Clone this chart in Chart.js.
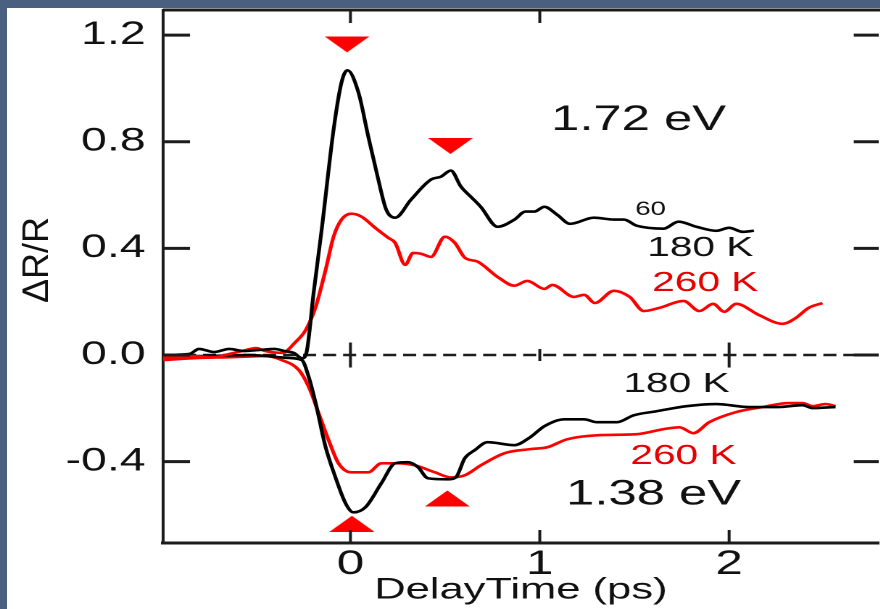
<!DOCTYPE html>
<html>
<head>
<meta charset="utf-8">
<script src="https://cdn.jsdelivr.net/npm/chart.js@4.4.0/dist/chart.umd.min.js"></script>
<style>
html, body { margin:0; padding:0; width:880px; height:609px; overflow:hidden; background:#4a6080; }
#paper { position:absolute; left:7px; top:8px; right:0; bottom:0; background:#fff; }
#wrap { position:absolute; left:0; top:0; width:615px; height:609px; transform:scaleX(1.45); transform-origin:0 0; }
</style>
</head>
<body>
<div id="paper"></div>
<div id="wrap"><canvas id="chart" width="615" height="609"></canvas></div>
<script>
// delay (ps), dR/R pairs
const black172 = [[-0.99,0],[-0.85,0.004],[-0.80,0.023],[-0.72,0.011],[-0.64,0.023],[-0.56,0.015],[-0.48,0.019],[-0.40,0.023],[-0.35,0.015],[-0.30,0.008],[-0.255,-0.012],[-0.232,0.01],[-0.194,0.237],[-0.152,0.47],[-0.089,0.846],[-0.047,1.023],[-0.016,1.068],[0.042,0.985],[0.094,0.82],[0.147,0.658],[0.189,0.545],[0.236,0.515],[0.32,0.583],[0.425,0.658],[0.478,0.669],[0.53,0.692],[0.583,0.632],[0.635,0.594],[0.688,0.556],[0.777,0.481],[0.866,0.508],[0.924,0.538],[0.971,0.538],[1.024,0.556],[1.092,0.526],[1.16,0.492],[1.286,0.515],[1.391,0.508],[1.444,0.508],[1.512,0.485],[1.654,0.474],[1.732,0.5],[1.827,0.481],[1.932,0.466],[2.0,0.477],[2.073,0.462],[2.131,0.466]];
const red172 = [[-0.99,-0.011],[-0.85,-0.004],[-0.72,-0.008],[-0.64,0.004],[-0.55,0.019],[-0.5,0.026],[-0.45,0.015],[-0.36,0.008],[-0.29,0.049],[-0.236,0.094],[-0.184,0.18],[-0.131,0.32],[-0.089,0.444],[-0.047,0.508],[0.005,0.53],[0.058,0.519],[0.131,0.477],[0.199,0.44],[0.236,0.421],[0.289,0.338],[0.331,0.383],[0.373,0.38],[0.425,0.368],[0.499,0.444],[0.551,0.421],[0.604,0.365],[0.672,0.35],[0.777,0.293],[0.866,0.26],[0.934,0.278],[1.024,0.248],[1.066,0.263],[1.181,0.218],[1.234,0.226],[1.291,0.195],[1.391,0.241],[1.475,0.218],[1.549,0.165],[1.633,0.177],[1.759,0.203],[1.843,0.165],[1.916,0.192],[1.974,0.162],[2.037,0.192],[2.157,0.15],[2.283,0.117],[2.352,0.139],[2.42,0.177],[2.493,0.195]];
const black138 = [[-0.99,0],[-0.80,-0.004],[-0.535,0],[-0.325,-0.011],[-0.257,-0.019],[-0.22,-0.083],[-0.184,-0.18],[-0.131,-0.346],[-0.079,-0.459],[-0.026,-0.556],[0.016,-0.59],[0.079,-0.571],[0.163,-0.481],[0.236,-0.406],[0.304,-0.402],[0.357,-0.421],[0.409,-0.462],[0.514,-0.466],[0.556,-0.459],[0.604,-0.387],[0.656,-0.357],[0.724,-0.327],[0.866,-0.338],[0.95,-0.308],[1.024,-0.267],[1.129,-0.241],[1.234,-0.241],[1.302,-0.252],[1.407,-0.252],[1.496,-0.226],[1.617,-0.211],[1.774,-0.192],[1.932,-0.184],[2.105,-0.195],[2.262,-0.195],[2.388,-0.188],[2.441,-0.199],[2.562,-0.195]];
const red138 = [[-0.99,-0.019],[-0.80,-0.011],[-0.625,-0.008],[-0.446,-0.004],[-0.362,-0.019],[-0.273,-0.056],[-0.22,-0.12],[-0.168,-0.218],[-0.115,-0.32],[-0.063,-0.406],[0.005,-0.44],[0.094,-0.44],[0.163,-0.406],[0.252,-0.406],[0.341,-0.414],[0.446,-0.44],[0.53,-0.459],[0.604,-0.451],[0.688,-0.414],[0.814,-0.368],[0.95,-0.353],[1.039,-0.346],[1.144,-0.316],[1.302,-0.301],[1.512,-0.297],[1.654,-0.278],[1.738,-0.271],[1.811,-0.293],[1.895,-0.252],[2.037,-0.214],[2.178,-0.195],[2.315,-0.18],[2.388,-0.18],[2.441,-0.192],[2.509,-0.184],[2.562,-0.192]];
const peaksDown = [[-0.018,1.165],[0.528,0.784]];
const peaksUp = [[0.008,-0.633],[0.512,-0.538]];
const xTicks = [0, 1, 2];
const topTicks = [0, 1];
const yTicks = [-0.4, 0, 0.4, 0.8, 1.2];

const S = 1.45; // horizontal stretch of the original figure
const FONT = 'Liberation Sans, Arial, sans-serif';
const INK = '#1c1c1c';
const RED = '#ff0000';

const pts = arr => arr.map(p => ({ x: p[0], y: p[1] }));

function triangleImage(w, h) {
    const c = document.createElement('canvas');
    c.width = w * 2; c.height = h * 2;
    const g = c.getContext('2d');
    g.fillStyle = RED;
    g.beginPath(); g.moveTo(0, 0); g.lineTo(c.width, 0); g.lineTo(c.width / 2, c.height); g.closePath(); g.fill();
    const img = new Image(w, h);
    img.src = c.toDataURL();
    return img;
}

function noPad(s) { s.paddingTop = 0; s.paddingBottom = 0; s.paddingLeft = 0; s.paddingRight = 0; }

const frame = {
    id: 'frame',
    beforeDatasetsDraw(chart) {
        const { ctx, chartArea: a, scales: { x, y } } = chart;
        const y0 = y.getPixelForValue(0);
        ctx.save();
        ctx.strokeStyle = INK;
        ctx.lineWidth = 2.5;
        ctx.setLineDash([9, 4.8]);
        ctx.beginPath(); ctx.moveTo(a.left, y0); ctx.lineTo(a.right, y0); ctx.stroke();
        ctx.setLineDash([]);
        ctx.lineWidth = 2;
        xTicks.forEach(v => {
            const px = x.getPixelForValue(v);
            const h = v === 1 ? 6 : 12.5;
            ctx.beginPath(); ctx.moveTo(px, y0 - h); ctx.lineTo(px, y0 + h); ctx.stroke();
        });
        ctx.restore();
    },
    afterDraw(chart) {
        const { ctx, chartArea: a, scales: { x, y } } = chart;
        ctx.save();
        ctx.strokeStyle = INK;
        ctx.lineWidth = 3;
        ctx.beginPath(); ctx.moveTo(a.left, a.top); ctx.lineTo(a.right + 5, a.top); ctx.stroke();
        yTicks.forEach(v => {
            const py = y.getPixelForValue(v);
            ctx.beginPath(); ctx.moveTo(a.left, py); ctx.lineTo(a.left + 18.6, py); ctx.stroke();
            ctx.beginPath(); ctx.moveTo(a.right - 17.2, py); ctx.lineTo(a.right, py); ctx.stroke();
        });
        ctx.lineWidth = 2;
        xTicks.forEach(v => {
            const px = x.getPixelForValue(v);
            ctx.beginPath(); ctx.moveTo(px, a.bottom); ctx.lineTo(px, a.bottom - 13); ctx.stroke();
        });
        topTicks.forEach(v => {
            const px = x.getPixelForValue(v);
            ctx.beginPath(); ctx.moveTo(px, a.top); ctx.lineTo(px, a.top + 13); ctx.stroke();
        });

        // annotations
        const notes = [
            ['1.72 eV', 1.522, 0.881, 35, '#111'],
            ['60', 1.585, 0.544, 19, '#111'],
            ['180 K', 1.848, 0.401, 28, '#111'],
            ['260 K', 1.874, 0.27, 28, '#e60000'],
            ['180 K', 1.722, -0.109, 28, '#111'],
            ['260 K', 1.759, -0.379, 28, '#e60000'],
            ['1.38 eV', 1.601, -0.525, 35, '#111']
        ];
        ctx.textAlign = 'center';
        ctx.textBaseline = 'middle';
        notes.forEach(([t, vx, vy, size, color]) => {
            ctx.font = size + 'px ' + FONT;
            ctx.fillStyle = color;
            ctx.fillText(t, x.getPixelForValue(vx), y.getPixelForValue(vy));
        });

        // y title, drawn without the horizontal stretch
        ctx.translate(38 / S, 260);
        ctx.scale(1 / S, 1);
        ctx.rotate(-Math.PI / 2);
        ctx.font = '36px ' + FONT;
        ctx.fillStyle = '#111';
        ctx.fillText('ΔR/R', 0, 0);
        ctx.restore();
    }
};

function build(down) {
    const ctx = document.getElementById('chart').getContext('2d');
    const curve = (data, color) => ({ data: pts(data), showLine: true, borderColor: color, borderWidth: 2.6, pointRadius: 0, cubicInterpolationMode: 'monotone' });
    new Chart(ctx, {
        type: 'scatter',
        data: {
            datasets: [
                { data: pts(peaksDown), pointStyle: down, pointRadius: 8, rotation: 0 },
                { data: pts(peaksUp), pointStyle: down, pointRadius: 8, rotation: 180 },
                curve(black172, '#000'),
                curve(red172, RED),
                curve(black138, '#000'),
                curve(red138, RED)
            ]
        },
        options: {
            responsive: false, animation: false, devicePixelRatio: 2,
            layout: { padding: { top: 10, right: 6, left: 0, bottom: 0 } },
            plugins: { legend: { display: false }, tooltip: { enabled: false } },
            scales: {
                x: {
                    type: 'linear', min: -0.99, max: 2.79,
                    grid: { display: false, drawTicks: false },
                    border: { color: INK, width: 3 },
                    afterBuildTicks: s => { s.ticks = xTicks.map(v => ({ value: v })); },
                    afterFit: s => { s.height = 66; noPad(s); },
                    ticks: { color: '#111', font: { family: FONT, size: 34 }, padding: 1, maxRotation: 0, callback: v => String(v) },
                    title: { display: true, text: 'DelayTime (ps)', color: '#111', font: { family: FONT, size: 30 }, padding: { top: 0, bottom: 1 } }
                },
                y: {
                    min: -0.705, max: 1.294,
                    grid: { display: false, drawTicks: false },
                    border: { color: INK, width: 2 },
                    afterBuildTicks: s => { s.ticks = yTicks.map(v => ({ value: v })); },
                    afterFit: s => { s.width = 163 / S; noPad(s); },
                    ticks: { color: '#111', font: { family: FONT, size: 32 }, padding: 12, callback: v => v.toFixed(1) }
                }
            }
        },
        plugins: [frame]
    });
}

const tri = triangleImage(31, 16);
tri.decode().then(() => build(tri), () => build(tri));
</script>
</body>
</html>
